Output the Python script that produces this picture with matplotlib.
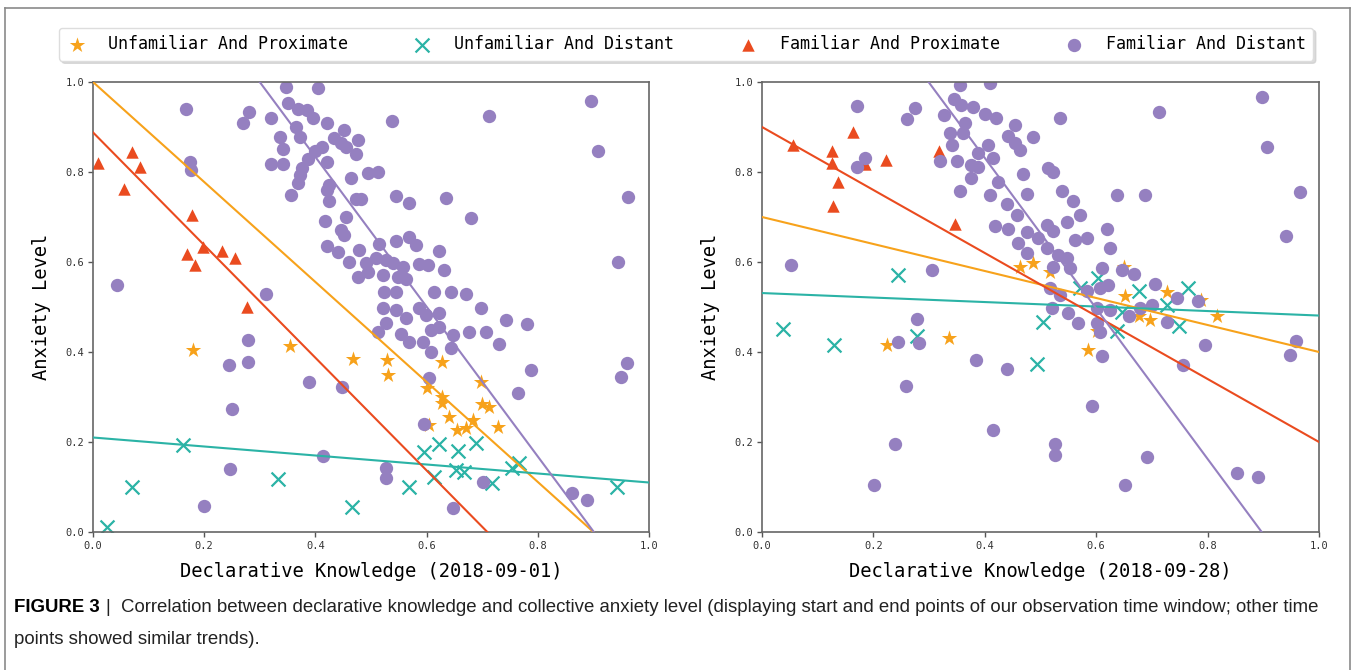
import numpy as np
import matplotlib.pyplot as plt
from matplotlib.lines import Line2D

# colours
PURPLE = '#9580c0'
ORANGE = '#f7a21b'
TEAL = '#2bb3a6'
RED = '#ea4b1f'

MONO = 'DejaVu Sans Mono'

groups = ['Unfamiliar And Proximate', 'Unfamiliar And Distant',
          'Familiar And Proximate', 'Familiar And Distant']
x_labels = ['Declarative Knowledge (2018-09-01)', 'Declarative Knowledge (2018-09-28)']
y_label = 'Anxiety Level'

# -----------------------------------------------------------------------------
# 2018-09-01 (left panel)
# -----------------------------------------------------------------------------
l_up_x = [0.180, 0.355, 0.467, 0.528, 0.530, 0.628, 0.697, 0.601, 0.628, 0.627,
          0.700, 0.713, 0.641, 0.684, 0.605, 0.655, 0.671, 0.729]
l_up_y = [0.404, 0.413, 0.384, 0.382, 0.349, 0.378, 0.333, 0.320, 0.300, 0.287,
          0.284, 0.278, 0.256, 0.249, 0.238, 0.227, 0.231, 0.233]

l_ud_x = [0.025, 0.070, 0.162, 0.332, 0.465, 0.596, 0.623, 0.657, 0.688, 0.653,
          0.668, 0.614, 0.569, 0.718, 0.754, 0.767, 0.943]
l_ud_y = [0.011, 0.100, 0.193, 0.118, 0.056, 0.178, 0.196, 0.180, 0.198, 0.138,
          0.133, 0.122, 0.100, 0.109, 0.142, 0.153, 0.100]

l_fp_x = [0.009, 0.070, 0.084, 0.056, 0.178, 0.169, 0.183, 0.197, 0.232, 0.255, 0.277]
l_fp_y = [0.820, 0.844, 0.811, 0.762, 0.704, 0.618, 0.594, 0.633, 0.625, 0.609, 0.500]

l_fd_x = [0.348, 0.405, 0.351, 0.369, 0.384, 0.396, 0.420, 0.366, 0.452, 0.538,
          0.713, 0.336, 0.372, 0.434, 0.446, 0.476, 0.342, 0.411, 0.399, 0.455,
          0.473, 0.387, 0.420, 0.321, 0.342, 0.375, 0.372, 0.494, 0.512, 0.464,
          0.369, 0.425, 0.420, 0.357, 0.473, 0.482, 0.545, 0.569, 0.634, 0.425,
          0.680, 0.417, 0.455, 0.446, 0.452, 0.420, 0.440, 0.479, 0.515, 0.545,
          0.569, 0.581, 0.623, 0.461, 0.491, 0.509, 0.527, 0.539, 0.557, 0.586,
          0.602, 0.632, 0.476, 0.494, 0.521, 0.548, 0.563, 0.524, 0.545, 0.614,
          0.644, 0.671, 0.521, 0.545, 0.563, 0.587, 0.599, 0.623, 0.698, 0.527,
          0.512, 0.554, 0.569, 0.593, 0.608, 0.623, 0.647, 0.677, 0.707, 0.731,
          0.743, 0.781, 0.608, 0.644, 0.788, 0.605, 0.764, 0.311, 0.388, 0.448,
          0.596, 0.413, 0.527, 0.527, 0.701, 0.168, 0.174, 0.177, 0.044, 0.269,
          0.281, 0.321, 0.895, 0.909, 0.963, 0.945, 0.961, 0.949, 0.862, 0.889,
          0.647, 0.279, 0.245, 0.279, 0.250, 0.246, 0.200]
l_fd_y = [0.990, 0.987, 0.953, 0.941, 0.938, 0.919, 0.910, 0.901, 0.893, 0.913,
          0.925, 0.878, 0.878, 0.875, 0.864, 0.871, 0.851, 0.856, 0.847, 0.856,
          0.839, 0.830, 0.822, 0.817, 0.817, 0.808, 0.793, 0.797, 0.801, 0.786,
          0.775, 0.771, 0.760, 0.750, 0.740, 0.740, 0.747, 0.732, 0.742, 0.736,
          0.697, 0.691, 0.701, 0.671, 0.659, 0.636, 0.623, 0.627, 0.641, 0.647,
          0.656, 0.638, 0.624, 0.601, 0.597, 0.608, 0.604, 0.597, 0.590, 0.595,
          0.593, 0.582, 0.567, 0.578, 0.571, 0.567, 0.562, 0.534, 0.534, 0.534,
          0.534, 0.530, 0.497, 0.493, 0.475, 0.497, 0.482, 0.486, 0.497, 0.464,
          0.445, 0.441, 0.423, 0.423, 0.449, 0.456, 0.438, 0.445, 0.445, 0.417,
          0.471, 0.462, 0.401, 0.408, 0.360, 0.342, 0.310, 0.530, 0.334, 0.322,
          0.239, 0.169, 0.142, 0.119, 0.112, 0.939, 0.823, 0.804, 0.550, 0.908,
          0.934, 0.921, 0.958, 0.847, 0.745, 0.601, 0.375, 0.344, 0.086, 0.071,
          0.053, 0.427, 0.371, 0.378, 0.273, 0.140, 0.058]

# fitted lines (slope, intercept) in group order
l_slope = [-1.111, -0.100, -1.252, -1.664]
l_icept = [1.000, 0.210, 0.888, 1.499]

# -----------------------------------------------------------------------------
# 2018-09-28 (right panel)
# -----------------------------------------------------------------------------
r_up_x = [0.224, 0.336, 0.463, 0.486, 0.517, 0.586, 0.650, 0.652, 0.676, 0.696,
          0.727, 0.789, 0.817, 0.601]
r_up_y = [0.416, 0.432, 0.588, 0.598, 0.578, 0.404, 0.588, 0.525, 0.481, 0.472,
          0.534, 0.515, 0.481, 0.446]

r_ud_x = [0.037, 0.130, 0.245, 0.278, 0.493, 0.505, 0.571, 0.604, 0.637, 0.646,
          0.676, 0.727, 0.749, 0.765]
r_ud_y = [0.451, 0.416, 0.572, 0.436, 0.374, 0.466, 0.542, 0.564, 0.446, 0.490,
          0.536, 0.505, 0.457, 0.542]

r_fp_x = [0.056, 0.164, 0.125, 0.125, 0.136, 0.128, 0.223, 0.317, 0.346, 0.185]
r_fp_y = [0.861, 0.889, 0.847, 0.821, 0.778, 0.724, 0.827, 0.847, 0.685, 0.818]

r_fd_x = [0.355, 0.409, 0.275, 0.260, 0.344, 0.358, 0.379, 0.326, 0.400, 0.421,
          0.364, 0.535, 0.712, 0.338, 0.361, 0.454, 0.442, 0.486, 0.341, 0.454,
          0.463, 0.406, 0.388, 0.415, 0.320, 0.350, 0.376, 0.388, 0.376, 0.514,
          0.523, 0.469, 0.424, 0.355, 0.409, 0.475, 0.538, 0.559, 0.439, 0.457,
          0.637, 0.688, 0.571, 0.547, 0.418, 0.442, 0.475, 0.511, 0.496, 0.523,
          0.619, 0.460, 0.562, 0.583, 0.625, 0.475, 0.511, 0.532, 0.547, 0.523,
          0.553, 0.610, 0.646, 0.667, 0.517, 0.535, 0.583, 0.607, 0.622, 0.706,
          0.745, 0.783, 0.520, 0.550, 0.568, 0.601, 0.625, 0.658, 0.679, 0.700,
          0.727, 0.601, 0.607, 0.305, 0.610, 0.592, 0.526, 0.526, 0.691, 0.652,
          0.756, 0.278, 0.245, 0.282, 0.258, 0.238, 0.201, 0.385, 0.439, 0.415,
          0.170, 0.170, 0.185, 0.052, 0.897, 0.906, 0.966, 0.941, 0.959, 0.948,
          0.795, 0.853, 0.890]
r_fd_y = [0.994, 0.998, 0.942, 0.918, 0.963, 0.950, 0.944, 0.927, 0.929, 0.920,
          0.909, 0.921, 0.933, 0.887, 0.887, 0.904, 0.879, 0.877, 0.859, 0.864,
          0.850, 0.861, 0.842, 0.831, 0.824, 0.825, 0.816, 0.812, 0.787, 0.809,
          0.801, 0.796, 0.778, 0.757, 0.750, 0.751, 0.757, 0.736, 0.729, 0.705,
          0.750, 0.748, 0.705, 0.690, 0.679, 0.674, 0.667, 0.683, 0.653, 0.668,
          0.674, 0.642, 0.650, 0.653, 0.631, 0.620, 0.631, 0.616, 0.609, 0.590,
          0.587, 0.587, 0.583, 0.573, 0.542, 0.527, 0.535, 0.542, 0.548, 0.551,
          0.521, 0.513, 0.498, 0.487, 0.464, 0.498, 0.494, 0.479, 0.498, 0.505,
          0.467, 0.464, 0.444, 0.583, 0.392, 0.281, 0.196, 0.172, 0.166, 0.104,
          0.372, 0.473, 0.422, 0.420, 0.325, 0.196, 0.105, 0.383, 0.362, 0.226,
          0.946, 0.812, 0.831, 0.594, 0.967, 0.855, 0.755, 0.657, 0.424, 0.394,
          0.416, 0.132, 0.122]

r_slope = [-0.300, -0.050, -0.700, -1.672]
r_icept = [0.700, 0.531, 0.900, 1.500]

ticks = [0.0, 0.2, 0.4, 0.6, 0.8, 1.0]

colors = [ORANGE, TEAL, RED, PURPLE]
markers = ['*', 'x', '^', 'o']
sizes = [135, 100, 80, 92]

W, H = 1355, 670
fig = plt.figure(figsize=(W / 100, H / 100), dpi=100)


def draw_panel(ax, xs, ys, slopes, icepts, xlabel):
    handles = []
    for i in range(4):
        if markers[i] == 'x':
            h = ax.scatter(xs[i], ys[i], marker='x', s=sizes[i], color=colors[i],
                           linewidths=1.6, zorder=2, label=groups[i])
        else:
            h = ax.scatter(xs[i], ys[i], marker=markers[i], s=sizes[i], color=colors[i],
                           linewidths=0, zorder=2, label=groups[i])
        handles.append(h)
    xx = np.array([0.0, 1.0])
    for i in range(4):
        ax.plot(xx, slopes[i] * xx + icepts[i], color=colors[i], lw=1.5, zorder=3)
    ax.set_xlim(0, 1)
    ax.set_ylim(0, 1)
    ax.set_xticks(ticks)
    ax.set_yticks(ticks)
    ax.set_xticklabels(['%.1f' % t for t in ticks], family=MONO, fontsize=7.5, color='#333333')
    ax.set_yticklabels(['%.1f' % t for t in ticks], family=MONO, fontsize=7.5, color='#333333')
    ax.tick_params(length=3.5, width=1, color='#555555', pad=3)
    for s in ax.spines.values():
        s.set_color('#666666')
        s.set_linewidth(1.2)
    ax.set_xlabel(xlabel, family=MONO, fontsize=13.5, labelpad=8)
    ax.set_ylabel(y_label, family=MONO, fontsize=13.5, labelpad=10)
    return handles


ax1 = fig.add_axes([93 / W, (H - 532) / H, 556 / W, 450 / H])
ax2 = fig.add_axes([762 / W, (H - 532) / H, 557 / W, 450 / H])

hs = draw_panel(ax1, [l_up_x, l_ud_x, l_fp_x, l_fd_x], [l_up_y, l_ud_y, l_fp_y, l_fd_y],
                l_slope, l_icept, x_labels[0])
draw_panel(ax2, [r_up_x, r_ud_x, r_fp_x, r_fd_x], [r_up_y, r_ud_y, r_fp_y, r_fd_y],
           r_slope, r_icept, x_labels[1])

leg = fig.legend(hs, groups, loc='center', ncol=4, mode='expand',
                 bbox_to_anchor=(54 / W, (H - 60) / H, 1264 / W, 32 / H),
                 prop={'family': MONO, 'size': 12}, fancybox=True,
                 shadow={'color': '#cccccc', 'alpha': 0.7},
                 edgecolor='#dddddd', framealpha=1, handletextpad=1.3,
                 borderpad=0.45, handlelength=1.2, borderaxespad=0.3)

# outer frame
frame_kw = dict(color='#8a8a8a', lw=1.2, transform=fig.transFigure)
fig.add_artist(Line2D([5 / W, 1350 / W], [1 - 8 / H, 1 - 8 / H], **frame_kw))
fig.add_artist(Line2D([5 / W, 5 / W], [0, 1 - 8 / H], **frame_kw))
fig.add_artist(Line2D([1350 / W, 1350 / W], [0, 1 - 8 / H], **frame_kw))

# caption
cap_font = ['Liberation Sans Narrow', 'Liberation Sans']
t1 = fig.text(14 / W, 1 - 608 / H, 'FIGURE 3', weight='bold', fontsize=13.4,
              family=cap_font, va='center')
fig.canvas.draw()
bb = t1.get_window_extent()
fig.text(bb.x1 / W + 6 / W, 1 - 608 / H,
         '|  Correlation between declarative knowledge and collective anxiety level '
         '(displaying start and end points of our observation time window; other time',
         fontsize=13.4, family=cap_font, va='center', color='#222222')
fig.text(14 / W, 1 - 640 / H, 'points showed similar trends).', fontsize=13.4,
         family=cap_font, va='center', color='#222222')

fig.savefig('out.png', dpi=100)
